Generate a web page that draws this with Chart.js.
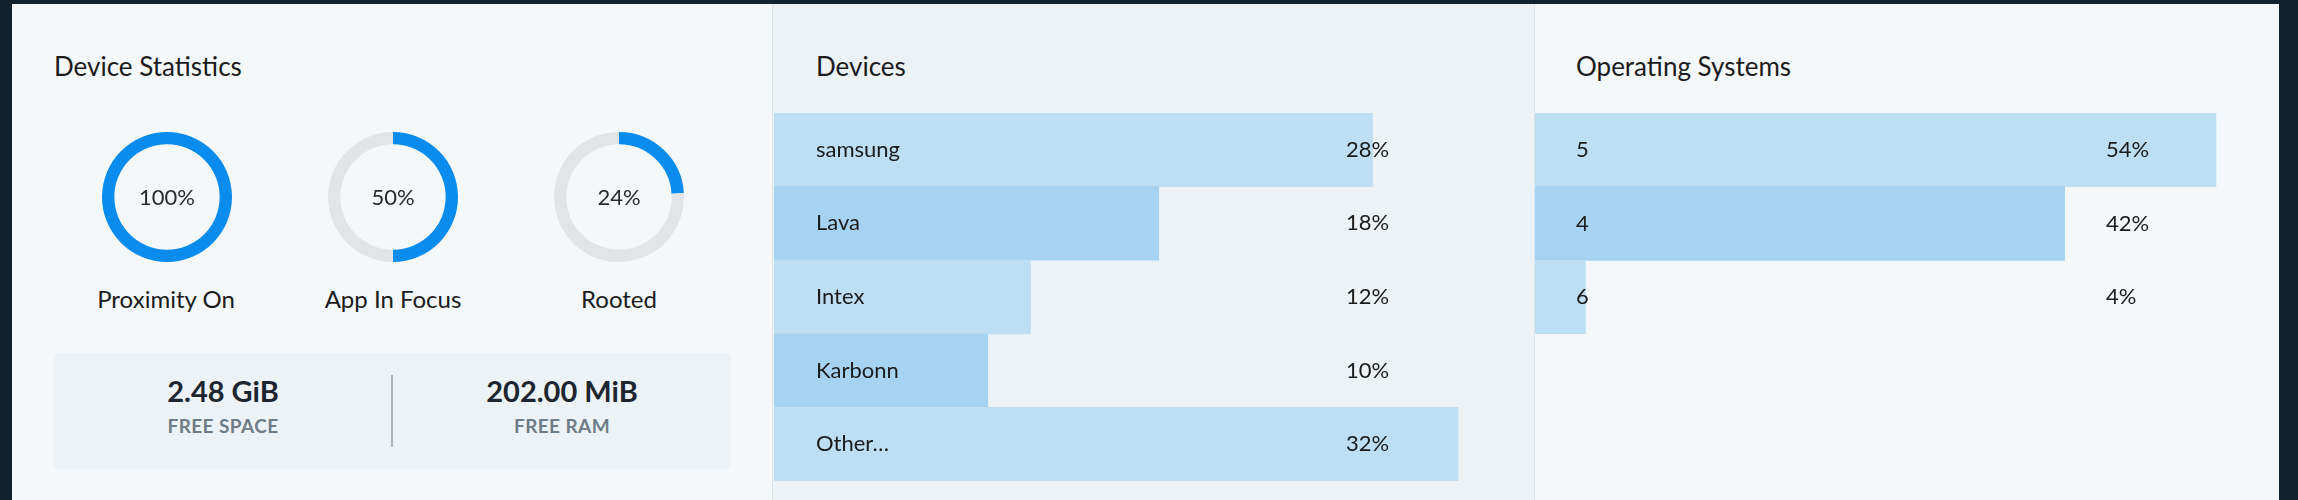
<!DOCTYPE html>
<html lang="en">
<head>
<meta charset="UTF-8">
<title>Device Statistics</title>
<script src="https://cdn.jsdelivr.net/npm/chart.js"></script>
<style>
  body { margin:0; width:2298px; height:500px; background:#12232f; font-family:Lato, "Open Sans", sans-serif; overflow:hidden; position:relative; }
  .panel { position:absolute; top:4px; height:496px; }
  .title { position:absolute; top:46px; font-size:26px; color:#1b1b1b; }
  .dlabel { position:absolute; top:280px; width:220px; text-align:center; font-size:24px; color:#1b1b1b; }
  .dcanvas { position:absolute; top:128px; width:130px; height:130px; }
  .box { position:absolute; left:42px; top:349px; width:677px; height:116px; background:#edf2f6; border-radius:4px; }
  .stat { position:absolute; top:20px; width:338px; text-align:center; }
  .stat b { display:block; font-size:29px; color:#1d2630; }
  .stat span { display:block; margin-top:6px; font-size:19px; color:#6f7d88; font-weight:bold; letter-spacing:0.4px; }
  .sep { position:absolute; left:337px; top:22px; width:2px; height:72px; background:#a8b4bd; }
</style>
</head>
<body>
<div class="panel" style="left:12px;width:760px;background:#f4f8fb;">
  <div class="title" style="left:42px;">Device Statistics</div>
  <div class="dcanvas" style="left:90px;"><canvas id="d0"></canvas></div>
  <div class="dcanvas" style="left:316px;"><canvas id="d1"></canvas></div>
  <div class="dcanvas" style="left:542px;"><canvas id="d2"></canvas></div>
  <div class="dlabel" style="left:44px;">Proximity On</div>
  <div class="dlabel" style="left:271px;">App In Focus</div>
  <div class="dlabel" style="left:497px;">Rooted</div>
  <div class="box">
    <div class="stat" style="left:0;"><b id="s0"></b><span id="l0"></span></div>
    <div class="sep"></div>
    <div class="stat" style="left:339px;"><b id="s1"></b><span id="l1"></span></div>
  </div>
</div>
<div class="panel" style="left:772px;width:763px;background:#edf2f7;border-left:1px solid #dde5ec;border-right:1px solid #dde5ec;box-sizing:border-box;">
  <div class="title" style="left:43px;">Devices</div>
  <div style="position:absolute;left:1px;top:109px;width:761px;height:368px;"><canvas id="devChart"></canvas></div>
</div>
<div class="panel" style="left:1535px;width:744px;background:#f4f8fb;">
  <div class="title" style="left:41px;">Operating Systems</div>
  <div style="position:absolute;left:0;top:109px;width:744px;height:221px;"><canvas id="osChart"></canvas></div>
</div>
<script>
const gaugeLabels = ["Proximity On", "App In Focus", "Rooted"];
const gaugeValues = [100, 50, 24];
const statValues = ["2.48 GiB", "202.00 MiB"];
const statLabels = ["FREE SPACE", "FREE RAM"];
const deviceNames = ["samsung", "Lava", "Intex", "Karbonn", "Other\u2026"];
const deviceShares = [28, 18, 12, 10, 32];
const osNames = ["5", "4", "6"];
const osShares = [54, 42, 4];

statValues.forEach((v, i) => {
  document.getElementById("s" + i).textContent = v;
  document.getElementById("l" + i).textContent = statLabels[i];
});

const centerText = {
  id: "centerText",
  afterDraw(chart) {
    const { ctx, chartArea } = chart;
    ctx.save();
    ctx.font = "22px Lato, sans-serif";
    ctx.fillStyle = "#2a2a2a";
    ctx.textAlign = "center";
    ctx.textBaseline = "middle";
    ctx.fillText(chart.data.datasets[0].data[0] + "%", (chartArea.left + chartArea.right) / 2, (chartArea.top + chartArea.bottom) / 2 + 1);
    ctx.restore();
  }
};

gaugeValues.forEach((v, i) => {
  new Chart(document.getElementById("d" + i), {
    type: "doughnut",
    data: { labels: [gaugeLabels[i], ""], datasets: [{ data: [v, 100 - v], backgroundColor: ["#0a8cef", "#e1e5e8"], borderWidth: 0 }] },
    options: { responsive: true, maintainAspectRatio: false, cutout: "81%", animation: false,
      plugins: { legend: { display: false }, tooltip: { enabled: false } } },
    plugins: [centerText]
  });
});

const rowText = (nameX, pctX) => ({
  id: "rowText",
  afterDatasetsDraw(chart) {
    const { ctx } = chart;
    const yScale = chart.scales.y;
    ctx.save();
    ctx.font = "22px Lato, sans-serif";
    ctx.fillStyle = "#1b1b1b";
    ctx.textBaseline = "middle";
    chart.data.labels.forEach((name, i) => {
      const y = yScale.getPixelForValue(i);
      ctx.fillText(name, nameX, y);
      ctx.fillText(chart.data.datasets[0].data[i] + "%", pctX, y);
    });
    ctx.restore();
  }
});

function barChart(id, names, shares, max, nameX, pctX) {
  new Chart(document.getElementById(id), {
    type: "bar",
    data: { labels: names, datasets: [{ data: shares,
      backgroundColor: names.map((n, i) => i % 2 ? "#a7d3f2" : "#bedef4"),
      categoryPercentage: 1, barPercentage: 1, borderWidth: 0 }] },
    options: { indexAxis: "y", responsive: true, maintainAspectRatio: false, animation: false,
      layout: { padding: 0 },
      scales: { x: { display: false, min: 0, max: max }, y: { display: false } },
      plugins: { legend: { display: false }, tooltip: { enabled: false } } },
    plugins: [rowText(nameX, pctX)]
  });
}

barChart("devChart", deviceNames, deviceShares, 35.6, 42, 572);
barChart("osChart", osNames, osShares, 59.0, 41, 571);
</script>
</body>
</html>
